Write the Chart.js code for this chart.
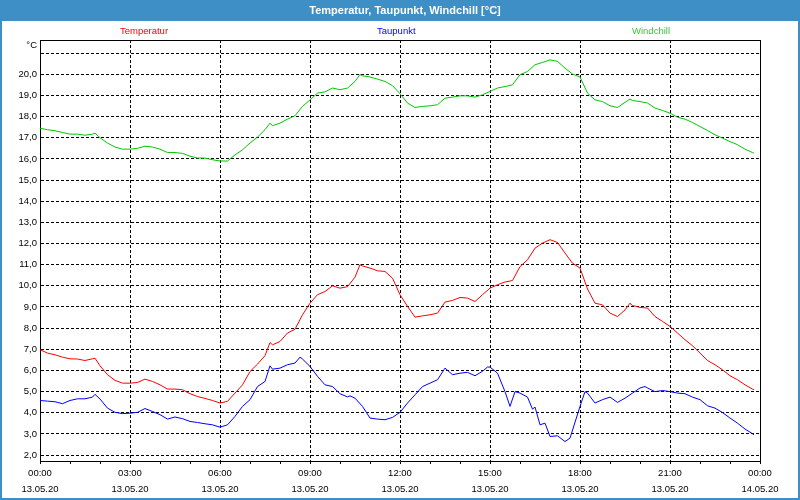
<!DOCTYPE html>
<html><head><meta charset="utf-8">
<script src="https://cdn.jsdelivr.net/npm/chart.js@4/dist/chart.umd.min.js"></script>
<style>html,body{margin:0;padding:0;background:#fff}#wrap{width:800px;height:500px;position:relative}canvas{display:block}</style>
</head><body><div id="wrap"><canvas id="c" width="800" height="500"></canvas></div>
<script>
const chartTitle = 'Temperatur, Taupunkt, Windchill [°C]';
const seriesNames = ['Temperatur', 'Taupunkt', 'Windchill'];
const yUnit = '°C';
const yTickValues = [2,3,4,5,6,7,8,9,10,11,12,13,14,15,16,17,18,19,20,21];
const hourTicks = [0,1,2,3,4,5,6,7,8,9,10,11,12,13,14,15,16,17,18,19,20,21,22,23,24];
const xLabelHours = [0,3,6,9,12,15,18,21,24];
const xLabelTimes = ['00:00','03:00','06:00','09:00','12:00','15:00','18:00','21:00','00:00'];
const xLabelDates = ['13.05.20','13.05.20','13.05.20','13.05.20','13.05.20','13.05.20','13.05.20','13.05.20','14.05.20'];

const tempTimes = ['00:00','00:15','00:30','00:45','01:00','01:15','01:30','01:45','01:50','02:00','02:15','02:30','02:45','03:00','03:15','03:30','03:45','04:00','04:15','04:30','04:45','05:00','05:15','05:30','05:45','06:00','06:15','06:30','06:45','07:00','07:15','07:30','07:40','07:45','08:00','08:15','08:30','08:45','09:00','09:15','09:30','09:45','10:00','10:15','10:30','10:40','10:45','11:00','11:15','11:30','11:45','12:00','12:15','12:30','12:45','13:00','13:15','13:30','13:45','14:00','14:15','14:30','14:45','15:00','15:15','15:30','15:45','16:00','16:15','16:30','16:45','17:00','17:15','17:30','17:45','18:00','18:15','18:30','18:45','19:00','19:15','19:30','19:40','19:45','20:00','20:15','20:30','20:45','21:00','21:15','21:30','21:45','22:00','22:15','22:30','22:45','23:00','23:15','23:30','23:45','23:48'];
const tempValues = [6.98,6.82,6.74,6.63,6.55,6.54,6.47,6.55,6.58,6.22,5.80,5.53,5.40,5.40,5.43,5.59,5.48,5.32,5.12,5.12,5.09,4.90,4.77,4.68,4.58,4.46,4.54,4.93,5.32,5.95,6.30,6.70,7.32,7.21,7.37,7.77,7.95,8.63,9.18,9.58,9.73,10.00,9.89,9.96,10.41,11.00,10.94,10.84,10.71,10.68,10.36,9.58,9.03,8.52,8.58,8.63,8.71,9.23,9.31,9.45,9.42,9.26,9.58,9.89,10.05,10.18,10.25,10.91,11.23,11.78,12.02,12.18,12.05,11.55,11.07,10.84,9.85,9.18,9.10,8.71,8.55,8.86,9.18,9.07,8.98,8.95,8.55,8.32,8.08,7.77,7.45,7.17,6.82,6.47,6.27,6.03,5.75,5.56,5.32,5.12,5.09];

const dewTimes = ['00:00','00:15','00:30','00:45','01:00','01:15','01:30','01:45','01:50','02:00','02:15','02:30','02:45','03:00','03:15','03:30','03:45','04:00','04:15','04:30','04:45','05:00','05:15','05:30','05:45','06:00','06:15','06:30','06:45','07:00','07:15','07:30','07:40','07:45','08:00','08:15','08:30','08:40','08:45','09:00','09:15','09:30','09:45','10:00','10:15','10:20','10:30','10:45','11:00','11:15','11:30','11:45','12:00','12:15','12:30','12:45','13:00','13:15','13:30','13:45','14:00','14:15','14:30','14:45','14:55','15:00','15:15','15:30','15:40','15:50','16:00','16:15','16:25','16:30','16:40','16:50','17:00','17:15','17:30','17:40','18:00','18:10','18:15','18:30','18:45','19:00','19:15','19:30','19:45','20:00','20:10','20:15','20:30','20:45','21:00','21:15','21:30','21:45','22:00','22:15','22:30','22:45','23:00','23:15','23:30','23:45','23:48'];
const dewValues = [4.58,4.55,4.52,4.43,4.58,4.66,4.66,4.74,4.87,4.65,4.22,4.02,3.96,3.98,4.02,4.20,4.06,3.91,3.70,3.80,3.72,3.59,3.54,3.48,3.43,3.32,3.43,3.83,4.30,4.62,5.24,5.48,6.22,6.06,6.11,6.27,6.35,6.63,6.54,6.19,5.72,5.32,5.24,4.90,4.75,4.80,4.69,4.30,3.75,3.70,3.67,3.78,4.02,4.46,4.85,5.24,5.40,5.56,6.11,5.80,5.87,5.91,5.75,5.96,6.16,6.16,5.87,5.00,4.30,5.00,4.93,4.74,4.17,4.27,3.43,3.51,2.88,2.91,2.64,2.80,4.30,5.00,4.93,4.46,4.62,4.74,4.49,4.69,4.93,5.17,5.24,5.17,5.00,5.05,5.00,4.93,4.90,4.74,4.62,4.33,4.22,4.01,3.75,3.51,3.23,3.01,2.96];

const chillTimes = ['00:00','00:15','00:30','00:45','01:00','01:15','01:30','01:45','01:50','02:00','02:15','02:30','02:45','03:00','03:15','03:30','03:45','04:00','04:15','04:30','04:45','05:00','05:15','05:30','05:45','06:00','06:15','06:30','06:45','07:00','07:15','07:30','07:40','07:45','08:00','08:15','08:30','08:45','09:00','09:15','09:30','09:45','10:00','10:15','10:30','10:40','10:45','11:00','11:15','11:30','11:45','12:00','12:15','12:30','12:45','13:00','13:15','13:30','13:45','14:00','14:15','14:30','14:45','15:00','15:15','15:30','15:45','16:00','16:15','16:30','16:45','17:00','17:15','17:30','17:45','18:00','18:15','18:30','18:45','19:00','19:15','19:30','19:40','19:45','20:00','20:15','20:30','20:45','21:00','21:15','21:30','21:45','22:00','22:15','22:30','22:45','23:00','23:15','23:30','23:45','23:48'];
const chillValues = [17.45,17.38,17.33,17.25,17.17,17.17,17.12,17.17,17.22,17.00,16.75,16.56,16.46,16.46,16.50,16.60,16.56,16.46,16.30,16.30,16.26,16.13,16.04,16.04,15.96,15.90,15.90,16.19,16.43,16.75,17.03,17.38,17.69,17.57,17.69,17.88,18.04,18.48,18.79,19.11,19.17,19.35,19.27,19.35,19.66,19.99,19.93,19.87,19.77,19.66,19.46,19.08,18.64,18.43,18.48,18.51,18.56,18.87,18.92,18.98,18.98,18.92,19.03,19.19,19.35,19.42,19.50,19.98,20.13,20.45,20.56,20.68,20.61,20.29,20.01,19.87,19.11,18.79,18.71,18.51,18.43,18.67,18.83,18.76,18.71,18.64,18.40,18.29,18.16,17.97,17.88,17.72,17.53,17.34,17.14,16.98,16.82,16.67,16.46,16.30,16.27];

const FONT = '"Liberation Sans", Arial, sans-serif';
const toH = s => { const p = s.split(':').map(Number); return p[0] + p[1] / 60; };
const mk = (t, v) => t.map((s, i) => ({ x: toH(s), y: v[i] }));

const frame = {
  id: 'frame',
  beforeDraw(chart) {
    const ctx = chart.ctx;
    ctx.save(); ctx.fillStyle = '#fff'; ctx.fillRect(0, 0, 800, 500); ctx.restore();
  },
  afterDraw(chart) {
    const { ctx, chartArea: a } = chart;
    ctx.save();
    ctx.setLineDash([]);
    ctx.strokeStyle = '#000'; ctx.lineWidth = 1;
    ctx.beginPath();
    ctx.moveTo(Math.round(a.left), Math.round(a.top) + 0.5);
    ctx.lineTo(Math.round(a.right) + 1, Math.round(a.top) + 0.5);
    ctx.moveTo(Math.round(a.right) + 0.5, Math.round(a.top));
    ctx.lineTo(Math.round(a.right) + 0.5, Math.round(a.bottom));
    ctx.stroke();
    // title bar and frame
    ctx.fillStyle = '#3d8fc6';
    ctx.fillRect(0, 0, 800, 21);
    ctx.fillRect(0, 0, 2, 500);
    ctx.fillRect(798, 0, 2, 500);
    ctx.fillRect(0, 498, 800, 2);
    ctx.fillStyle = '#fff';
    ctx.font = 'bold 11px ' + FONT;
    ctx.textAlign = 'center'; ctx.textBaseline = 'middle';
    ctx.fillText(chartTitle, 405, 10.5);
    // series labels
    const cols = ['#ff0000', '#0000ff', '#33cc33'];
    const lx = [120, 377, 632];
    ctx.font = '9.5px ' + FONT;
    ctx.textAlign = 'left';
    seriesNames.forEach((n, i) => { ctx.fillStyle = cols[i]; ctx.fillText(n, lx[i], 31); });
    // unit
    ctx.fillStyle = '#000';
    ctx.textAlign = 'right';
    ctx.fillText(yUnit, a.left - 3, 45);
    ctx.restore();
  }
};

new Chart(document.getElementById('c'), {
  type: 'line',
  data: {
    datasets: [
      { label: seriesNames[0], data: mk(tempTimes, tempValues), borderColor: '#ff0000', borderWidth: 1, pointRadius: 0, tension: 0, fill: false },
      { label: seriesNames[1], data: mk(dewTimes, dewValues), borderColor: '#0000ff', borderWidth: 1, pointRadius: 0, tension: 0, fill: false },
      { label: seriesNames[2], data: mk(chillTimes, chillValues), borderColor: '#00c800', borderWidth: 1, pointRadius: 0, tension: 0, fill: false }
    ]
  },
  options: {
    responsive: false, animation: false, devicePixelRatio: 1,
    layout: { padding: { left: 0, top: 40, right: 40, bottom: 0 } },
    plugins: { legend: { display: false }, tooltip: { enabled: false }, title: { display: false } },
    scales: {
      x: {
        type: 'linear', min: 0, max: 24, position: 'bottom',
        afterBuildTicks: s => { s.ticks = hourTicks.map(v => ({ value: v })); },
        afterFit: s => { s.height = 39; },
        ticks: {
          autoSkip: false, maxRotation: 0, color: '#000', padding: 2,
          font: { family: FONT, size: 9.5, lineHeight: 1.65 },
          callback: v => { const i = xLabelHours.indexOf(v); return i >= 0 ? [xLabelTimes[i], xLabelDates[i]] : ''; }
        },
        grid: {
          color: c => (c.tick && xLabelHours.indexOf(c.tick.value) >= 0) ? '#000' : 'rgba(0,0,0,0)',
          tickColor: '#000', tickLength: 3, lineWidth: 1, drawTicks: true
        },
        border: { display: true, color: '#000', width: 1, dash: [3, 2] }
      },
      y: {
        type: 'linear', min: 1.72, max: 21.62,
        afterBuildTicks: s => { s.ticks = yTickValues.map(v => ({ value: v })); },
        afterFit: s => { s.width = 40; },
        ticks: {
          color: '#000', padding: 3, font: { family: FONT, size: 9.5 },
          callback: v => v === 21 ? '' : v.toFixed(1).replace('.', ',')
        },
        grid: { color: '#000', lineWidth: 1, drawTicks: false },
        border: { display: true, color: '#000', width: 1, dash: [3, 2] }
      }
    }
  },
  plugins: [frame]
});
</script></body></html>
